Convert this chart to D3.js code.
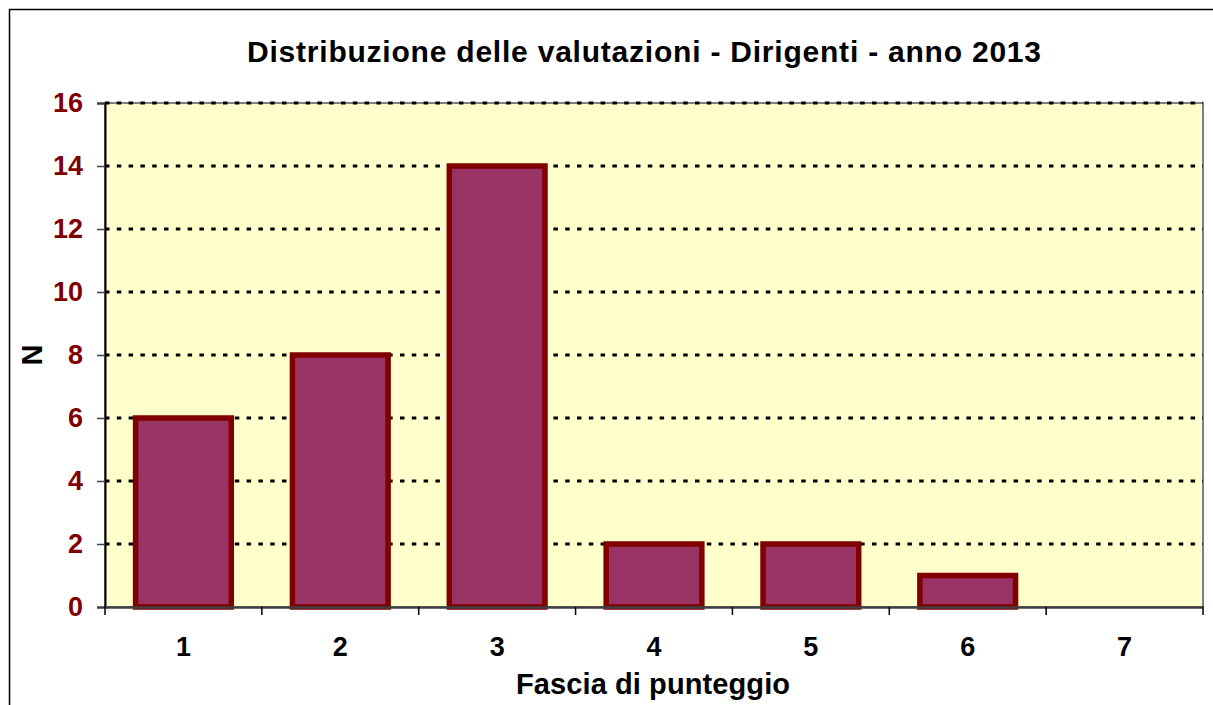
<!DOCTYPE html>
<html lang="it">
<head>
<meta charset="UTF-8">
<title>Distribuzione delle valutazioni</title>
<style>
  body { margin: 0; background: #fff; }
  svg { display: block; font-family: 'Liberation Sans', Arial, sans-serif; }
</style>
<script src="https://d3js.org/d3.v7.min.js"></script>
</head>
<body>
<svg id="chart" width="1213" height="705"></svg>
<script>
// dati
const fasce = ["1", "2", "3", "4", "5", "6", "7"];
const valori = [6, 8, 14, 2, 2, 1, 0];
const yTicks = [0, 2, 4, 6, 8, 10, 12, 14, 16];
const titolo = "Distribuzione delle valutazioni - Dirigenti - anno 2013";
const titoloX = "Fascia di punteggio";
const titoloY = "N";

const svg = d3.select("#chart");
const plot = { left: 105, top: 103, right: 1203, bottom: 607 };

// cornice esterna (aperta a destra e in basso)
svg.append("path")
  .attr("d", "M9.5,705 L9.5,9.5 L1213,9.5")
  .attr("fill", "none")
  .attr("stroke", "#000")
  .attr("stroke-width", 1.5);

const x = d3.scaleBand().domain(fasce).range([plot.left, plot.right]).paddingInner(0).paddingOuter(0);
const y = d3.scaleLinear().domain([0, 16]).range([plot.bottom, plot.top]);

// sfondo area grafico
svg.append("rect")
  .attr("x", plot.left).attr("y", plot.top)
  .attr("width", plot.right - plot.left).attr("height", plot.bottom - plot.top)
  .attr("fill", "#FFFFCC")
  .attr("stroke", "#808080")
  .attr("stroke-width", 2);

// griglia tratteggiata
svg.append("g").selectAll("line")
  .data(yTicks.filter(d => d > 0))
  .join("line")
  .attr("x1", plot.left).attr("x2", plot.right)
  .attr("y1", d => y(d)).attr("y2", d => y(d))
  .attr("stroke", "#000")
  .attr("stroke-width", 2.8)
  .attr("stroke-dasharray", "4.5 7.3");

// barre
const barW = x.bandwidth() * 0.61;
svg.append("g").selectAll("rect")
  .data(valori.map((v, i) => ({ f: fasce[i], v })).filter(d => d.v > 0))
  .join("rect")
  .attr("x", d => x(d.f) + (x.bandwidth() - barW) / 2)
  .attr("y", d => y(d.v))
  .attr("width", barW)
  .attr("height", d => y(0) - y(d.v))
  .attr("fill", "#993366")
  .attr("stroke", "#800000")
  .attr("stroke-width", 5.5);

// asse y
const yAxis = svg.append("g")
  .attr("transform", `translate(${plot.left},0)`)
  .call(d3.axisLeft(y).tickValues(yTicks).tickSize(8).tickPadding(14).tickFormat(d3.format("d")));
yAxis.select(".domain").attr("stroke", "#000").attr("stroke-width", 2);
yAxis.selectAll(".tick line").attr("stroke", "#404040").attr("stroke-width", 1.5);
yAxis.selectAll("text")
  .attr("fill", "#800000")
  .attr("font-size", 27)
  .attr("font-weight", "bold");

// asse x
const xAxis = svg.append("g")
  .attr("transform", `translate(0,${plot.bottom})`)
  .call(d3.axisBottom(x).tickSize(0).tickPadding(30));
xAxis.select(".domain").attr("stroke", "#404040").attr("stroke-width", 2.5);
xAxis.selectAll("text")
  .attr("fill", "#000")
  .attr("font-size", 27)
  .attr("font-weight", "bold");

// tacche tra le categorie
svg.append("g").selectAll("line")
  .data(d3.range(fasce.length + 1))
  .join("line")
  .attr("x1", i => plot.left + i * x.step())
  .attr("x2", i => plot.left + i * x.step())
  .attr("y1", plot.bottom).attr("y2", plot.bottom + 8)
  .attr("stroke", "#000")
  .attr("stroke-width", 1.5);

// titoli
svg.append("text")
  .attr("x", 644).attr("y", 62)
  .attr("text-anchor", "middle")
  .attr("font-size", 30)
  .attr("font-weight", "bold")
  .attr("textLength", 794)
  .attr("lengthAdjust", "spacing")
  .text(titolo);

svg.append("text")
  .attr("x", 653).attr("y", 694)
  .attr("text-anchor", "middle")
  .attr("font-size", 29)
  .attr("font-weight", "bold")
  .attr("textLength", 274)
  .attr("lengthAdjust", "spacing")
  .text(titoloX);

svg.append("text")
  .attr("transform", "translate(42,355) rotate(-90)")
  .attr("text-anchor", "middle")
  .attr("font-size", 29)
  .attr("font-weight", "bold")
  .text(titoloY);
</script>
</body>
</html>
